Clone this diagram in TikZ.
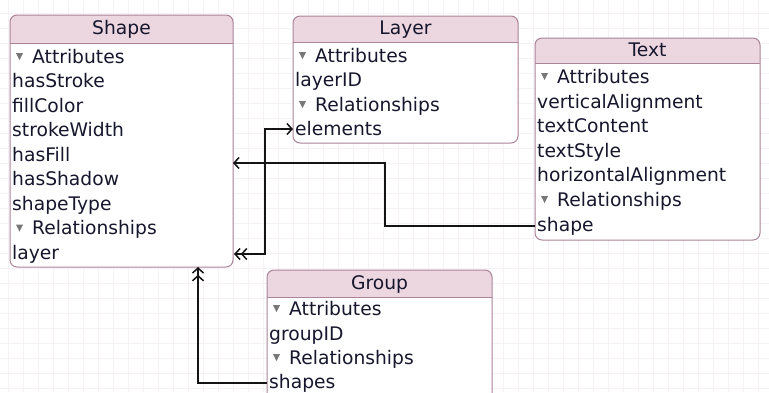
\documentclass[tikz,border=0pt]{standalone}
\usepackage{fontspec}
\setmainfont{DejaVu Sans}
\usetikzlibrary{arrows.meta}
\definecolor{hdr}{RGB}{236,214,224}
\definecolor{bord}{RGB}{170,132,152}
\definecolor{txt}{RGB}{22,22,45}
\definecolor{gridc}{RGB}{245,241,244}
\definecolor{tri}{RGB}{120,120,120}
\definecolor{lnc}{RGB}{20,20,20}

\newcommand\entbox[6]{%
  \node[boxn, minimum width=#4, minimum height=#5, anchor=north west] (#1) at (#2,#3) {};
  \begin{scope}
    \clip[rounded corners=7pt] (#1.north west) rectangle (#1.south east);
    \fill[hdr] (#1.north west) rectangle ([yshift=-#6]#1.north east);
  \end{scope}
  \draw[bord, line width=1pt, rounded corners=7pt] (#1.north west) rectangle (#1.south east);
}
\newcommand\entrow[4]{\node[rowtxt] (#1) at (#2,#3) {#4};}
\newcommand\entsect{}
\renewcommand\entsect[4]{%
  \fill[tri] (#2+6,#3-5) -- (#2+13,#3-5) -- (#2+9.5,#3+2) -- cycle;
  \node[rowtxt] (#1) at (#2+22,#3) {#4};}
\newcommand\divline[3]{\draw[bord, line width=1pt] (#1.west |- 0,#2) -- (#1.east |- 0,#2);}

\begin{document}
\begin{tikzpicture}[x=1pt,y=-1pt,
  font=\fontsize{18.7}{21}\selectfont,
  boxn/.style={rectangle, fill=white, inner sep=0pt, outer sep=0pt},
  rowtxt/.style={anchor=west, inner sep=0pt, text=txt, text height=14pt, text depth=4pt},
  ttl/.style={anchor=center, inner sep=0pt, text=txt, text height=14pt, text depth=4pt},
  conn/.style={line width=1.5pt, draw=lnc},
  barb/.tip={Straight Barb[length=5pt,width=11pt,line width=1.5pt]}]
\useasboundingbox (0,0) rectangle (769,392);
\begin{scope}
\clip (0,0) rectangle (769,392);
\fill[white] (0,0) rectangle (769,392);
\foreach \x in {8,23,...,768} \draw[gridc, line width=0.6pt] (\x,0) -- (\x,392);
\foreach \y in {13,28,...,391} \draw[gridc, line width=0.6pt] (0,\y) -- (769,\y);

% Shape
\entbox{shapebox}{10}{15}{223pt}{252pt}{28pt}
\divline{shapebox}{43}
\divline{shapebox}{217}
\node[ttl] (shapettl) at (121.5,29) {Shape};
\entsect{sattr}{10}{58}{Attributes}
\entrow{s1}{12}{82.5}{hasStroke}
\entrow{s2}{12}{107}{fillColor}
\entrow{s3}{12}{131.5}{strokeWidth}
\entrow{s4}{12}{156}{hasFill}
\entrow{s5}{12}{180.5}{hasShadow}
\entrow{s6}{12}{205}{shapeType}
\entsect{srel}{10}{229.5}{Relationships}
\entrow{slayer}{12}{254}{layer}

% Layer
\entbox{layerbox}{293}{16}{225pt}{127pt}{26pt}
\divline{layerbox}{42}
\divline{layerbox}{93}
\node[ttl] (layerttl) at (405.5,29) {Layer};
\entsect{lattr}{293}{57}{Attributes}
\entrow{l1}{295}{81}{layerID}
\entsect{lrel}{293}{106}{Relationships}
\entrow{lelem}{295}{130}{elements}

% Text
\entbox{textbox}{535}{38}{225pt}{202pt}{25pt}
\divline{textbox}{63}
\divline{textbox}{188}
\node[ttl] (textttl) at (647.5,51) {Text};
\entsect{tattr}{535}{78}{Attributes}
\entrow{t1}{537}{103}{verticalAlignment}
\entrow{t2}{537}{127.5}{textContent}
\entrow{t3}{537}{152}{textStyle}
\entrow{t4}{537}{176.5}{horizontalAlignment}
\entsect{trel}{535}{201}{Relationships}
\entrow{tshape}{537}{226}{shape}

% Group
\entbox{groupbox}{267}{270}{225pt}{135pt}{27pt}
\divline{groupbox}{297}
\divline{groupbox}{347}
\node[ttl] (groupttl) at (379.5,284) {Group};
\entsect{gattr}{267}{310}{Attributes}
\entrow{g1}{269}{335}{groupID}
\entsect{grel}{267}{359}{Relationships}
\entrow{gshapes}{269}{383}{shapes}

% connectors
\coordinate (bendA) at (385,163);
\draw[conn, -{barb}] (textbox.west |- tshape) -| (bendA) -- (shapebox.east |- bendA);
\coordinate (bendB) at (265,129);
\draw[conn, {barb[sep=1pt]barb}-{barb}] (shapebox.east |- slayer) -| (bendB) -- (layerbox.west |- bendB);
\coordinate (bendC) at (198,383);
\draw[conn, -{barb[sep=1pt]barb}] (groupbox.west |- gshapes) -- (bendC) -- (shapebox.south -| bendC);
\end{scope}
\end{tikzpicture}
\end{document}
